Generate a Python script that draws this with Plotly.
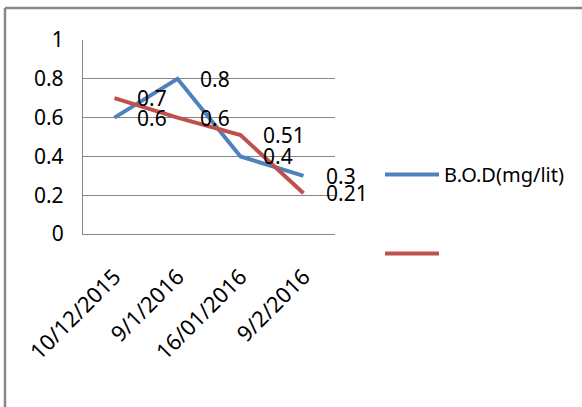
import plotly.graph_objects as go

dates = ["10/12/2015", "9/1/2016", "16/01/2016", "9/2/2016"]
bod = [0.6, 0.8, 0.4, 0.3]
second = [0.7, 0.6, 0.51, 0.21]
series_names = ["B.O.D(mg/lit)", ""]
y_ticks = [0, 0.2, 0.4, 0.6, 0.8, 1]
title_text = "Change of BOD by Day"

BLUE = "#4F81BD"
RED = "#C0504D"
GRID = "#868686"
FONT = "Noto Sans"
FS = 21

W, H = 582, 407
L, R, T, B = 83, 247, 40, 173
pw, ph = W - L - R, H - T - B


def px_to_paper_x(px):
    return (px - L) / pw


def px_to_paper_y(py):
    return (H - B - py) / ph


fig = go.Figure()
for name, vals, col, grp in [(series_names[0], bod, BLUE, "a"), (series_names[1], second, RED, "b")]:
    fig.add_trace(go.Scatter(x=dates, y=vals, mode="lines", name=name,
                             line=dict(color=col, width=4), legendgroup=grp))

annotations = []
for vals in (bod, second):
    for d, v in zip(dates, vals):
        annotations.append(dict(x=d, y=v, xref="x", yref="y", text=f"{v:g}",
                                showarrow=False, xanchor="left", yanchor="middle",
                                xshift=20, font=dict(family=FONT, size=FS, color="black")))

annotations.append(dict(x=px_to_paper_x(5), y=px_to_paper_y(2), xref="paper", yref="paper",
                        text="<b>" + title_text + "</b>", showarrow=False,
                        xanchor="left", yanchor="bottom",
                        font=dict(family="Liberation Serif", size=17, color="black")))

shapes = [
    dict(type="line", xref="paper", yref="paper", x0=px_to_paper_x(5), x1=px_to_paper_x(W + 5),
         y0=px_to_paper_y(8), y1=px_to_paper_y(8), line=dict(color="#878787", width=2.5)),
    dict(type="line", xref="paper", yref="paper", x0=px_to_paper_x(5), x1=px_to_paper_x(5),
         y0=px_to_paper_y(8), y1=px_to_paper_y(H + 5), line=dict(color="#878787", width=2.5)),
]

fig.update_layout(
    width=W, height=H,
    margin=dict(l=L, r=R, t=T, b=B, pad=0),
    paper_bgcolor="white", plot_bgcolor="white",
    font=dict(family=FONT, size=FS, color="black"),
    showlegend=True,
    legend=dict(x=px_to_paper_x(380), y=px_to_paper_y(155), xanchor="left", yanchor="top",
                tracegroupgap=50, itemwidth=54, font=dict(family=FONT, size=20),
                bgcolor="rgba(0,0,0,0)"),
    annotations=annotations,
    shapes=shapes,
    xaxis=dict(type="category", range=[-0.5, len(dates) - 0.5], showgrid=False,
               showline=True, linecolor=GRID, linewidth=1.3, tickangle=-45,
               ticks="", ticklabelstandoff=20, tickfont=dict(family=FONT, size=22),
               zeroline=False),
    yaxis=dict(range=[0, 1], tickvals=y_ticks, ticktext=[f"{t:g}" for t in y_ticks],
               showgrid=True, gridcolor=GRID, gridwidth=1.3, showline=True,
               linecolor=GRID, linewidth=1.3, ticks="", ticklabelstandoff=14,
               tickfont=dict(family=FONT, size=FS), zeroline=True, zerolinecolor=GRID,
               zerolinewidth=1.3),
)

fig.write_html("out.html")
